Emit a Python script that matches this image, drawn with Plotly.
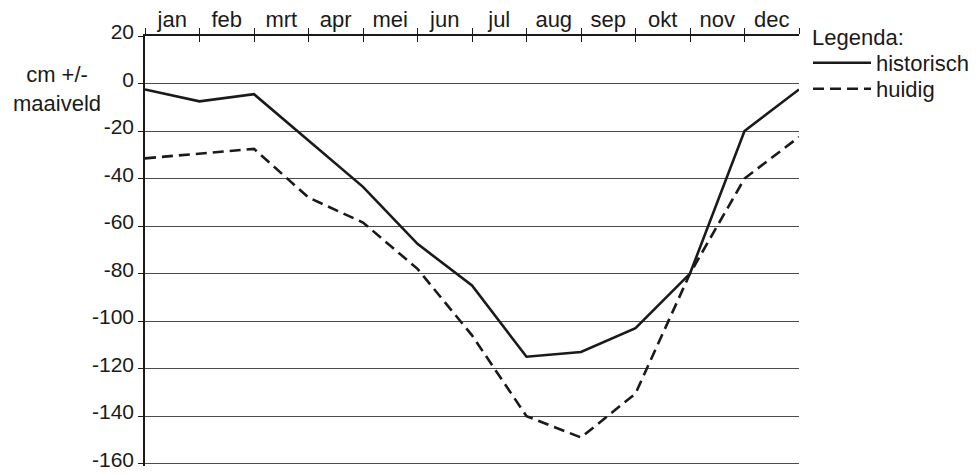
import plotly.graph_objects as go

months = ["jan", "feb", "mrt", "apr", "mei", "jun", "jul", "aug", "sep", "okt", "nov", "dec"]
month_bounds = list(range(13))
month_mids = [i + 0.5 for i in range(12)]
historisch = [-2.5, -7.5, -4.5, -24, -43.5, -67.5, -85, -115, -113, -103, -80, -20, -2.5]
huidig = [-31.5, -29.5, -27.5, -48, -58.5, -78, -106, -140, -149, -130.5, -80, -40, -22.5]
y_ticks = [20, 0, -20, -40, -60, -80, -100, -120, -140, -160]
y_ticktext = [str(v) for v in y_ticks]
y_range = [-161, 20]

FONT = "Liberation Sans, Arial, sans-serif"
FS = 22
INK = "#1a1a1a"

# plot area in page pixels: x 145..799, y 36..466
PL, PT, PW, PH = 145, 36, 654, 430


def px_x(px):
    return (px - PL) / PW


def px_y(py):
    return (PT + PH - py) / PH


fig = go.Figure()
fig.add_trace(go.Scatter(x=month_bounds, y=historisch, mode="lines", name="historisch",
                         line=dict(color=INK, width=2.6), legend="legend"))
fig.add_trace(go.Scatter(x=month_bounds, y=huidig, mode="lines", name="huidig",
                         line=dict(color=INK, width=2.6, dash="11px,6px"), legend="legend2"))
# helper traces for the overlay axes (month labels, inner tick halves)
fig.add_trace(go.Scatter(x=[0, 12], y=[None, None], xaxis="x2", showlegend=False,
                         hoverinfo="skip", mode="lines"))
fig.add_trace(go.Scatter(x=[0, 12], y=[None, None], xaxis="x3", showlegend=False,
                         hoverinfo="skip", mode="lines"))

leg_common = dict(xanchor="left", yanchor="middle", bgcolor="rgba(0,0,0,0)",
                  font=dict(size=FS), itemwidth=58, borderwidth=0)

fig.update_layout(
    width=977, height=473,
    margin=dict(l=PL, r=977 - PL - PW, t=PT, b=473 - PT - PH, autoexpand=False),
    paper_bgcolor="white", plot_bgcolor="white",
    font=dict(family=FONT, size=FS, color=INK),
    showlegend=True,
    legend=dict(x=px_x(808), y=px_y(63), **leg_common),
    legend2=dict(x=px_x(808), y=px_y(89), **leg_common),
    xaxis=dict(range=[0, 12], side="top", tickmode="array", tickvals=month_bounds,
               ticktext=[""] * 13, ticks="outside", ticklen=6, tickwidth=1.3,
               tickcolor=INK, showline=True, linecolor=INK, linewidth=1.5,
               showgrid=False, zeroline=False, automargin=False),
    xaxis2=dict(range=[0, 12], overlaying="x", side="top", anchor="y",
                tickmode="array", tickvals=month_mids, ticktext=months,
                ticks="", showline=False, showgrid=False, zeroline=False,
                automargin=False, ticklabelstandoff=4),
    xaxis3=dict(range=[0, 12], overlaying="x", side="top", anchor="y",
                tickmode="array", tickvals=month_bounds, ticktext=[""] * 13,
                ticks="inside", ticklen=6, tickwidth=1.3, tickcolor=INK,
                showline=False, showgrid=False, zeroline=False, automargin=False),
    yaxis=dict(range=y_range, tickmode="array", tickvals=y_ticks, ticktext=y_ticktext,
               ticks="outside", ticklen=5, tickwidth=1.3, tickcolor=INK,
               showline=True, linecolor=INK, linewidth=1.5, automargin=False,
               ticklabeloverflow="allow", ticklabelshift=-4, tickfont=dict(size=21),
               showgrid=True, gridcolor="#4a4a4a", gridwidth=1, zeroline=False),
    annotations=[
        dict(text="cm +/-<br>maaiveld", xref="paper", yref="paper",
             x=px_x(57), y=px_y(88.5), xanchor="center", yanchor="middle",
             showarrow=False, font=dict(size=FS)),
        dict(text="Legenda:", xref="paper", yref="paper",
             x=px_x(810), y=px_y(38), xanchor="left", yanchor="middle",
             showarrow=False, font=dict(size=FS)),
    ],
)

fig.write_html("out.html", config={"displayModeBar": False},
               post_script="document.body.style.margin='0px';")
